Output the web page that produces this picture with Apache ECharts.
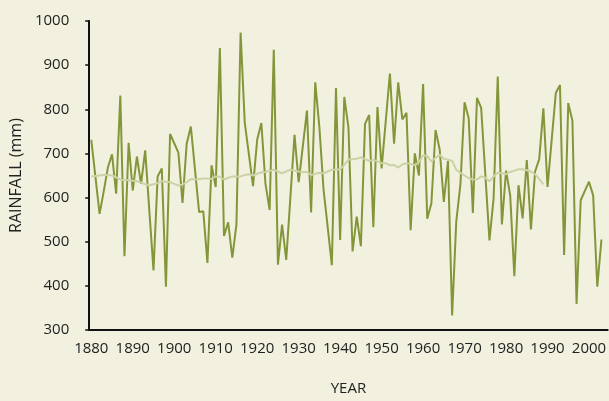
<!DOCTYPE html>
<html>
<head>
<meta charset="utf-8">
<script src="https://cdn.jsdelivr.net/npm/echarts@6/dist/echarts.min.js"></script>
<style>
  html, body {margin: 0; padding: 0; background: #f2f1df;}
  #chart {width: 609px; height: 401px;}
</style>
</head>
<body>
<div id="chart"></div>
<script>
// years on the category axis (last one has no reading)
const years = []
for (let y = 1880; y <= 2004; y++) years.push(String(y))

// annual rainfall, mm, 1880 - 2003
const rainfall = [
  731, 647, 563, 614, 668, 698, 609, 831, 467, 724,
  616, 693, 631, 707, 570, 435, 648, 666, 398, 744,
  723, 702, 588, 722, 761, 664, 567, 569, 452, 673,
  624, 939, 513, 544, 464, 539, 974, 770, 698, 626,
  731, 769, 631, 572, 935, 448, 539, 459, 600, 742,
  635, 716, 797, 566, 861, 759, 618, 533, 447, 848,
  504, 828, 759, 478, 557, 490, 767, 787, 533, 805,
  666, 774, 881, 722, 861, 777, 792, 526, 700, 650,
  857, 552, 587, 753, 709, 590, 683, 333, 546, 630,
  816, 779, 565, 826, 803, 653, 503, 598, 874, 539,
  661, 605, 422, 628, 553, 685, 528, 659, 687, 802,
  624, 730, 837, 855, 470, 814, 774, 359, 594, 615,
  636, 605, 398, 505
]

// smoothed (moving average) line, 1880 - 1989
const smoothed = [
  648, 649, 650, 651, 651, 650, 646, 641, 639, 639,
  638, 637, 634, 630, 628, 630, 633, 637, 636, 635,
  631, 627, 630, 635, 642, 641, 642, 643, 643, 642,
  648, 647, 641, 645, 648, 648, 648, 651, 653, 650,
  654, 657, 658, 660, 663, 659, 655, 659, 663, 661,
  659, 658, 658, 651, 654, 656, 655, 659, 663, 663,
  664, 674, 686, 687, 688, 691, 687, 683, 685, 682,
  678, 678, 673, 674, 668, 675, 678, 676, 673, 680,
  696, 694, 682, 690, 697, 688, 686, 683, 663, 656,
  650, 644, 641, 641, 648, 645, 637, 648, 656, 655,
  653, 658, 661, 664, 664, 662, 659, 653, 642, 630
]

const yTicks = [300, 1000, 100]  // min, max, step

const font = '"Open Sans", Lato, sans-serif'

const chart = echarts.init(document.getElementById('chart'))
chart.setOption({
  backgroundColor: '#f2f1df',
  animation: false,
  grid: {left: 85, right: 0, top: 21, bottom: 65},
  xAxis: {
    type: 'category',
    data: years,
    boundaryGap: true,
    name: 'YEAR',
    nameLocation: 'middle',
    nameGap: 51,
    nameTextStyle: {color: '#222', fontSize: 15, fontFamily: font},
    axisLine: {lineStyle: {color: '#111', width: 2}},
    axisTick: {interval: 4, length: 4, lineStyle: {color: '#111', width: 1.5}},
    axisLabel: {interval: 9, margin: 11, color: '#222', fontSize: 15, fontFamily: font},
    splitLine: {show: false}
  },
  yAxis: {
    type: 'value',
    min: yTicks[0],
    max: yTicks[1],
    interval: yTicks[2],
    name: 'RAINFALL (mm)',
    nameLocation: 'middle',
    nameGap: 61,
    nameTextStyle: {color: '#222', fontSize: 16, fontFamily: font},
    axisLine: {show: true, lineStyle: {color: '#111', width: 2}},
    axisTick: {show: true, length: 4, lineStyle: {color: '#111', width: 1.5}},
    axisLabel: {margin: 20, color: '#222', fontSize: 15, fontFamily: font,
      formatter: v => String(v)},
    splitLine: {show: false}
  },
  series: [
    {
      name: 'Rainfall',
      type: 'line',
      data: rainfall,
      symbol: 'none',
      lineStyle: {color: '#84963a', width: 2},
      z: 2
    },
    {
      name: 'Moving average',
      type: 'line',
      data: smoothed,
      symbol: 'none',
      lineStyle: {color: '#cdd2a6', width: 2},
      z: 3
    }
  ]
})
</script>
</body>
</html>
